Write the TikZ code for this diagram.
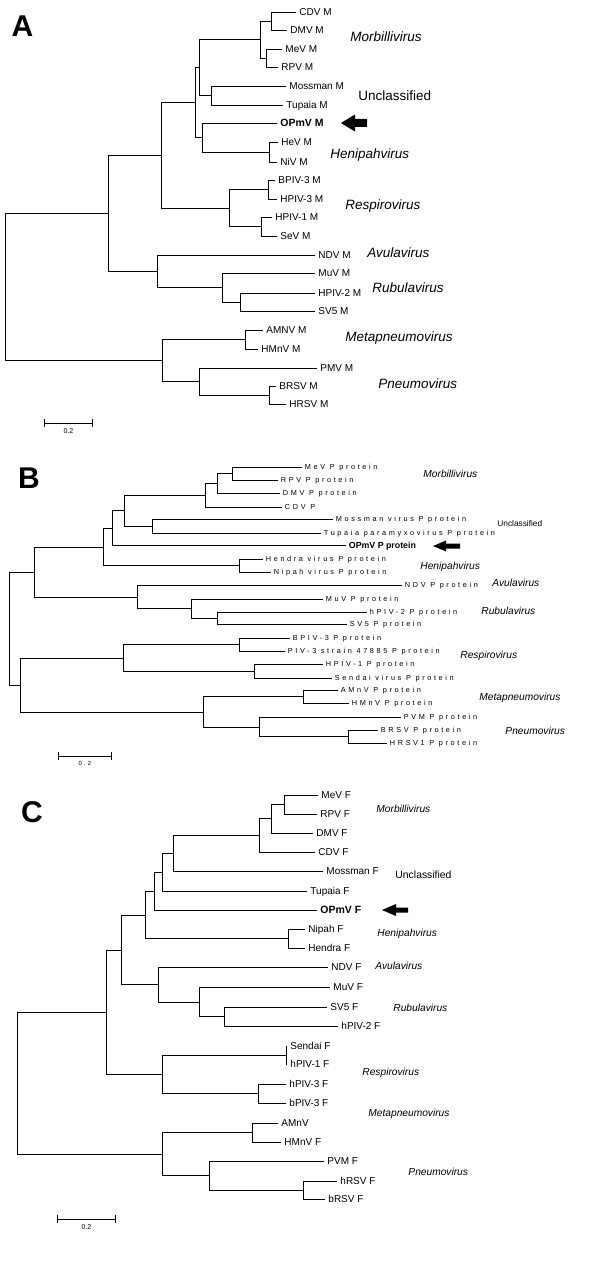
\documentclass[tikz,border=0pt]{standalone}
\usepackage{fontspec}
\setmainfont{Liberation Sans}
\newfontfamily\spacedfont[LetterSpace=36]{Liberation Sans}

% block arrow: tip x, y, head length, head half-height, shaft half-height, shaft length
\newcommand{\fatarrow}[6]{%
  \fill (#1,#2) -- ++(#3,-#4) -- ++(0,#4-#5) -- ++(#6,0) -- ++(0,2*#5)
        -- ++(-#6,0) -- ++(0,#4-#5) -- cycle;}

\begin{document}
\begin{tikzpicture}[x=1pt,y=-1pt,line width=0.9pt,
    every edge/.style={draw,line width=0.9pt,to path={|- (\tikztotarget)}},
    leaf/.style={anchor=west,inner xsep=3pt,inner ysep=0pt,text height=7.2pt,
                 text depth=0pt,font=\fontsize{10}{12}\selectfont},
    ourleaf/.style={leaf,font=\bfseries\fontsize{10.5}{12}\selectfont},
    pleaf/.style={anchor=west,inner xsep=2.5pt,inner ysep=0pt,text height=5.2pt,
                  text depth=0pt,font=\spacedfont\fontsize{7.3}{8}\selectfont},
    pourleaf/.style={pleaf,font=\bfseries\fontsize{8.8}{10}\selectfont,text height=6.3pt},
    genus/.style={anchor=west,inner sep=0pt,text height=9.7pt,text depth=0pt,
                  font=\itshape\fontsize{13.5}{15}\selectfont},
    smallgenus/.style={genus,text height=7.2pt,font=\itshape\fontsize{10.2}{12}\selectfont},
    other/.style={genus,font=\fontsize{13.5}{15}\selectfont},
    panel/.style={inner sep=0pt,text height=21.6pt,text depth=0pt,
                  font=\bfseries\fontsize{30}{30}\selectfont},
    scalelab/.style={inner sep=0pt,font=\fontsize{7}{8}\selectfont}]

  \useasboundingbox[fill=white] (0,0) rectangle (600,1287);

  %%%%%%%%%%%%%%%% A : M protein
  \node[panel] (pA) at (22.5,26) {A};

  \coordinate (a1)  at (271,21);
  \coordinate (a2)  at (266,58);
  \coordinate (a3)  at (260,39.5);
  \coordinate (a4)  at (211,95.5);
  \coordinate (a5)  at (199,67.5);
  \coordinate (a6)  at (269,152);
  \coordinate (a7)  at (202,137.5);
  \coordinate (a8)  at (195,102.5);
  \coordinate (a9)  at (268,189.5);
  \coordinate (a10) at (261,226.5);
  \coordinate (a11) at (229,208);
  \coordinate (a12) at (161,155);
  \coordinate (a13) at (240,302);
  \coordinate (a14) at (222,287.5);
  \coordinate (a15) at (157,271);
  \coordinate (a16) at (108,213);
  \coordinate (a17) at (245,339.5);
  \coordinate (a18) at (269,395);
  \coordinate (a19) at (199,381.5);
  \coordinate (a20) at (162,360.5);
  \coordinate (a0)  at (5,287);

  \node[leaf] (cdvM) at (296,12)  {CDV M};
  \node[leaf] (dmvM) at (287,30)  {DMV M};
  \node[leaf] (mevM) at (282,49)  {MeV M};
  \node[leaf] (rpvM) at (278,67)  {RPV M};
  \node[leaf] (mosM) at (286,86)  {Mossman M};
  \node[leaf] (tupM) at (283,105) {Tupaia M};
  \node[ourleaf] (opmM) at (277,123) {OPmV M};
  \node[leaf] (hevM) at (278,142) {HeV M};
  \node[leaf] (nivM) at (277,162) {NiV M};
  \node[leaf] (bp3M) at (275,180) {BPIV-3 M};
  \node[leaf] (hp3M) at (277,199) {HPIV-3 M};
  \node[leaf] (hp1M) at (272,217) {HPIV-1 M};
  \node[leaf] (sevM) at (277,236) {SeV M};
  \node[leaf] (ndvM) at (315,255) {NDV M};
  \node[leaf] (muvM) at (315,273) {MuV M};
  \node[leaf] (hp2M) at (315,293) {HPIV-2 M};
  \node[leaf] (sv5M) at (315,311) {SV5 M};
  \node[leaf] (amnM) at (263,330) {AMNV M};
  \node[leaf] (hmnM) at (258,349) {HMnV M};
  \node[leaf] (pmvM) at (317,368) {PMV M};
  \node[leaf] (brsM) at (276,386) {BRSV M};
  \node[leaf] (hrsM) at (286,404) {HRSV M};

  \path (a0)  edge (a16) edge (a20)
        (a16) edge (a12) edge (a15)
        (a12) edge (a8) edge (a11)
        (a8)  edge (a5) edge (a7)
        (a5)  edge (a3) edge (a4)
        (a3)  edge (a1) edge (a2)
        (a1)  edge (cdvM) edge (dmvM)
        (a2)  edge (mevM) edge (rpvM)
        (a4)  edge (mosM) edge (tupM)
        (a7)  edge (opmM) edge (a6)
        (a6)  edge (hevM) edge (nivM)
        (a11) edge (a9) edge (a10)
        (a9)  edge (bp3M) edge (hp3M)
        (a10) edge (hp1M) edge (sevM)
        (a15) edge (ndvM) edge (a14)
        (a14) edge (muvM) edge (a13)
        (a13) edge (hp2M) edge (sv5M)
        (a20) edge (a17) edge (a19)
        (a17) edge (amnM) edge (hmnM)
        (a19) edge (pmvM) edge (a18)
        (a18) edge (brsM) edge (hrsM);

  \node[genus] (morA) at (350,37)  {Morbillivirus};
  \node[other] (uncA) at (358,96)  {Unclassified};
  \node[genus] (henA) at (330,154) {Henipahvirus};
  \node[genus] (resA) at (345,205) {Respirovirus};
  \node[genus] (avuA) at (367,253) {Avulavirus};
  \node[genus] (rubA) at (372,288) {Rubulavirus};
  \node[genus] (metA) at (345,337) {Metapneumovirus};
  \node[genus] (pneA) at (378,384) {Pneumovirus};
  \fatarrow{341}{123}{14}{8.5}{4}{12}

  \coordinate (sa1) at (44,423);
  \coordinate (sa2) at (93,423);
  \draw[|-|] (sa1) -- node[scalelab,below=5pt] (saL) {0.2} (sa2);

  %%%%%%%%%%%%%%%% B : P protein
  \node[panel] (pB) at (29,477.5) {B};

  \coordinate (b1)  at (232,473.5);
  \coordinate (b2)  at (217,483);
  \coordinate (b3)  at (205,495);
  \coordinate (b4)  at (152,526);
  \coordinate (b5)  at (124,510.5);
  \coordinate (b6)  at (112,528);
  \coordinate (b7)  at (239,565.5);
  \coordinate (b8)  at (103,547);
  \coordinate (b9)  at (217,618);
  \coordinate (b10) at (191,608.5);
  \coordinate (b11) at (137,597);
  \coordinate (b12) at (34,572);
  \coordinate (b13) at (239,644.5);
  \coordinate (b14) at (254,671);
  \coordinate (b15) at (123,658);
  \coordinate (b16) at (303,696.5);
  \coordinate (b17) at (348,736.5);
  \coordinate (b18) at (259,727);
  \coordinate (b19) at (203,712);
  \coordinate (b20) at (20,685);
  \coordinate (b0)  at (9,628.5);

  \node[pleaf] (mevP) at (302,467) {MeV P protein};
  \node[pleaf] (rpvP) at (278,480) {RPV P protein};
  \node[pleaf] (dmvP) at (280,493) {DMV P protein};
  \node[pleaf] (cdvP) at (282,507) {CDV P};
  \node[pleaf] (mosP) at (333,519) {Mossman virus P protein};
  \node[pleaf] (tupP) at (321,533) {Tupaia paramyxovirus P protein};
  \node[pourleaf] (opmP) at (346,545.5) {OPmV P protein};
  \node[pleaf] (henP) at (263,559) {Hendra virus P protein};
  \node[pleaf] (nipP) at (271,572) {Nipah virus P protein};
  \node[pleaf] (ndvP) at (402,585) {NDV P protein};
  \node[pleaf] (muvP) at (323,599) {MuV P protein};
  \node[pleaf] (hp2P) at (367,612) {hPIV-2 P protein};
  \node[pleaf] (sv5P) at (347,624) {SV5 P protein};
  \node[pleaf] (bp3P) at (290,638) {BPIV-3 P protein};
  \node[pleaf] (p3sP) at (285,651) {PIV-3 strain 47885 P protein};
  \node[pleaf] (hp1P) at (323,664) {HPIV-1 P protein};
  \node[pleaf] (senP) at (332,678) {Sendai virus P protein};
  \node[pleaf] (amnP) at (338,690) {AMnV P protein};
  \node[pleaf] (hmnP) at (349,703) {HMnV P protein};
  \node[pleaf] (pvmP) at (401,717) {PVM P protein};
  \node[pleaf] (brsP) at (378,730) {BRSV P protein};
  \node[pleaf] (hrsP) at (387,743) {HRSV1 P protein};

  \path (b0)  edge (b12) edge (b20)
        (b12) edge (b8) edge (b11)
        (b8)  edge (b6) edge (b7)
        (b6)  edge (b5) edge (opmP)
        (b5)  edge (b3) edge (b4)
        (b3)  edge (b2) edge (cdvP)
        (b2)  edge (b1) edge (dmvP)
        (b1)  edge (mevP) edge (rpvP)
        (b4)  edge (mosP) edge (tupP)
        (b7)  edge (henP) edge (nipP)
        (b11) edge (ndvP) edge (b10)
        (b10) edge (muvP) edge (b9)
        (b9)  edge (hp2P) edge (sv5P)
        (b20) edge (b15) edge (b19)
        (b15) edge (b13) edge (b14)
        (b13) edge (bp3P) edge (p3sP)
        (b14) edge (hp1P) edge (senP)
        (b19) edge (b16) edge (b18)
        (b16) edge (amnP) edge (hmnP)
        (b18) edge (pvmP) edge (b17)
        (b17) edge (brsP) edge (hrsP);

  \node[smallgenus] (morB) at (423,474) {Morbillivirus};
  \node[other,text height=6pt,font=\fontsize{8.3}{10}\selectfont] (uncB) at (497,523) {Unclassified};
  \node[smallgenus] (henB) at (420,566) {Henipahvirus};
  \node[smallgenus] (avuB) at (492,583) {Avulavirus};
  \node[smallgenus] (rubB) at (481,611) {Rubulavirus};
  \node[smallgenus] (resB) at (460,655) {Respirovirus};
  \node[smallgenus] (metB) at (479,697) {Metapneumovirus};
  \node[smallgenus] (pneB) at (505,731) {Pneumovirus};
  \fatarrow{433}{546}{13}{5.5}{2.5}{14}

  \coordinate (sb1) at (58,756);
  \coordinate (sb2) at (112,756);
  \draw[|-|] (sb1) -- node[scalelab,below=5pt,font=\spacedfont\fontsize{6}{7}\selectfont] (sbL) {0.2} (sb2);

  %%%%%%%%%%%%%%%% C : F protein
  \node[panel] (pC) at (32,812) {C};

  \coordinate (c1)  at (284,804.5);
  \coordinate (c2)  at (271,818.5);
  \coordinate (c3)  at (259,835);
  \coordinate (c4)  at (173,853.5);
  \coordinate (c5)  at (162,872);
  \coordinate (c6)  at (154,891);
  \coordinate (c7)  at (288,938.5);
  \coordinate (c8)  at (145,915);
  \coordinate (c9)  at (224,1016.5);
  \coordinate (c10) at (199,1002);
  \coordinate (c11) at (158,984.5);
  \coordinate (c12) at (121,950);
  \coordinate (c13) at (286,1055);
  \coordinate (c14) at (258,1093.5);
  \coordinate (c15) at (162,1074);
  \coordinate (c16) at (106,1012);
  \coordinate (c17) at (252,1132.5);
  \coordinate (c18) at (303,1190);
  \coordinate (c19) at (209,1175.5);
  \coordinate (c20) at (162,1154);
  \coordinate (c0)  at (17,1083);

  \node[leaf] (mevF) at (318,795)  {MeV F};
  \node[leaf] (rpvF) at (317,814)  {RPV F};
  \node[leaf] (dmvF) at (313,833)  {DMV F};
  \node[leaf] (cdvF) at (315,852)  {CDV F};
  \node[leaf] (mosF) at (323,871)  {Mossman F};
  \node[leaf] (tupF) at (307,891)  {Tupaia F};
  \node[ourleaf] (opmF) at (317,910) {OPmV F};
  \node[leaf] (nipF) at (305,929)  {Nipah F};
  \node[leaf] (henF) at (305,948)  {Hendra F};
  \node[leaf] (ndvF) at (328,967)  {NDV F};
  \node[leaf] (muvF) at (330,987)  {MuV F};
  \node[leaf] (sv5F) at (327,1007) {SV5 F};
  \node[leaf] (hp2F) at (338,1026) {hPIV-2 F};
  \node[leaf] (senF) at (287,1046) {Sendai F};
  \node[leaf] (hp1F) at (287,1064) {hPIV-1 F};
  \node[leaf] (hp3F) at (286,1084) {hPIV-3 F};
  \node[leaf] (bp3F) at (286,1103) {bPIV-3 F};
  \node[leaf] (amnF) at (278,1123) {AMnV};
  \node[leaf] (hmnF) at (281,1142) {HMnV F};
  \node[leaf] (pvmF) at (324,1161) {PVM F};
  \node[leaf] (hrsF) at (337,1181) {hRSV F};
  \node[leaf] (brsF) at (325,1199) {bRSV F};

  \path (c0)  edge (c16) edge (c20)
        (c16) edge (c12) edge (c15)
        (c12) edge (c8) edge (c11)
        (c8)  edge (c6) edge (c7)
        (c6)  edge (c5) edge (opmF)
        (c5)  edge (c4) edge (tupF)
        (c4)  edge (c3) edge (mosF)
        (c3)  edge (c2) edge (cdvF)
        (c2)  edge (c1) edge (dmvF)
        (c1)  edge (mevF) edge (rpvF)
        (c7)  edge (nipF) edge (henF)
        (c11) edge (ndvF) edge (c10)
        (c10) edge (muvF) edge (c9)
        (c9)  edge (sv5F) edge (hp2F)
        (c15) edge (c13) edge (c14)
        (c13) edge (senF) edge (hp1F)
        (c14) edge (hp3F) edge (bp3F)
        (c20) edge (c17) edge (c19)
        (c17) edge (amnF) edge (hmnF)
        (c19) edge (pvmF) edge (c18)
        (c18) edge (hrsF) edge (brsF);

  \node[smallgenus] (morC) at (376,809)  {Morbillivirus};
  \node[other,text height=7.4pt,font=\fontsize{10.4}{12}\selectfont] (uncC) at (395,875) {Unclassified};
  \node[smallgenus] (henC) at (377,933)  {Henipahvirus};
  \node[smallgenus] (avuC) at (375,966)  {Avulavirus};
  \node[smallgenus] (rubC) at (393,1008) {Rubulavirus};
  \node[smallgenus] (resC) at (362,1072) {Respirovirus};
  \node[smallgenus] (metC) at (368,1113) {Metapneumovirus};
  \node[smallgenus] (pneC) at (408,1172) {Pneumovirus};
  \fatarrow{382}{910}{14}{6}{2.5}{12}

  \coordinate (sc1) at (57,1219);
  \coordinate (sc2) at (116,1219);
  \draw[|-|] (sc1) -- node[scalelab,below=5pt] (scL) {0.2} (sc2);
\end{tikzpicture}
\end{document}
